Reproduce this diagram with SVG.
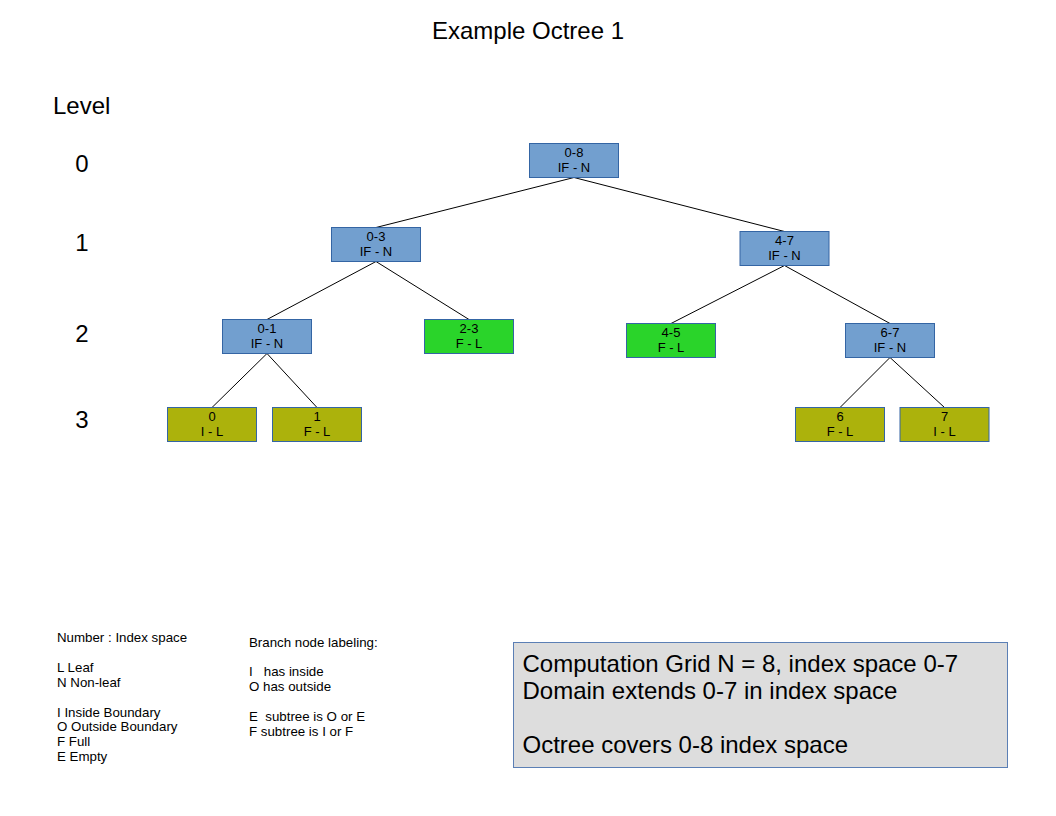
<svg xmlns="http://www.w3.org/2000/svg" width="1056" height="816" viewBox="0 0 1056 816">
<style>
text{font-family:"Liberation Sans",Arial,sans-serif;fill:#000}
.big{font-size:24px}
.sm{font-size:13.3px;white-space:pre}
.nt{font-size:13px;text-anchor:middle}
.node rect{stroke:#3465a4;stroke-width:1}
.blue rect{fill:#729fcf}
.green rect{fill:#2ad42a}
.olive rect{fill:#acb20c}
#connectors line{stroke:#000;stroke-width:1}
</style>
<rect width="1056" height="816" fill="#fff"/>
<text class="big" x="528" y="38.5" text-anchor="middle">Example Octree 1</text>
<g id="levels">
<text class="big" x="53" y="114">Level</text>
<text class="big" x="82" y="171.5" text-anchor="middle">0</text>
<text class="big" x="82" y="250.7" text-anchor="middle">1</text>
<text class="big" x="82" y="341.7" text-anchor="middle">2</text>
<text class="big" x="82" y="428.3" text-anchor="middle">3</text>
</g>
<g id="connectors">
<line x1="574" y1="177.5" x2="376" y2="227.5"/>
<line x1="574" y1="177.5" x2="784.5" y2="231.5"/>
<line x1="376" y1="261.5" x2="267" y2="319.5"/>
<line x1="376" y1="261.5" x2="469" y2="319.5"/>
<line x1="784.5" y1="265.5" x2="671" y2="323.5"/>
<line x1="784.5" y1="265.5" x2="890" y2="323.5"/>
<line x1="267" y1="353.5" x2="212" y2="407.5"/>
<line x1="267" y1="353.5" x2="317" y2="407.5"/>
<line x1="890" y1="357.5" x2="840" y2="407.5"/>
<line x1="890" y1="357.5" x2="944.5" y2="407.5"/>
</g>
<g id="n08" class="node blue"><rect x="529.5" y="143.5" width="89" height="34"/><text class="nt" x="574" y="157.2">0-8</text><text class="nt" x="574" y="172">IF - N</text></g>
<g id="n03" class="node blue"><rect x="331.5" y="227.5" width="89" height="34"/><text class="nt" x="376" y="241.2">0-3</text><text class="nt" x="376" y="256">IF - N</text></g>
<g id="n47" class="node blue"><rect x="740" y="231.5" width="89" height="34"/><text class="nt" x="784.5" y="245.2">4-7</text><text class="nt" x="784.5" y="260">IF - N</text></g>
<g id="n01" class="node blue"><rect x="222.5" y="319.5" width="89" height="34"/><text class="nt" x="267" y="333.2">0-1</text><text class="nt" x="267" y="348">IF - N</text></g>
<g id="n23" class="node green"><rect x="424.5" y="319.5" width="89" height="34"/><text class="nt" x="469" y="333.2">2-3</text><text class="nt" x="469" y="348">F - L</text></g>
<g id="n45" class="node green"><rect x="626.5" y="323.5" width="89" height="34"/><text class="nt" x="671" y="337.2">4-5</text><text class="nt" x="671" y="352">F - L</text></g>
<g id="n67" class="node blue"><rect x="845.5" y="323.5" width="89" height="34"/><text class="nt" x="890" y="337.2">6-7</text><text class="nt" x="890" y="352">IF - N</text></g>
<g id="n0" class="node olive"><rect x="167.5" y="407.5" width="89" height="34"/><text class="nt" x="212" y="421.2">0</text><text class="nt" x="212" y="436">I - L</text></g>
<g id="n1" class="node olive"><rect x="272.5" y="407.5" width="89" height="34"/><text class="nt" x="317" y="421.2">1</text><text class="nt" x="317" y="436">F - L</text></g>
<g id="n6" class="node olive"><rect x="795.5" y="407.5" width="89" height="34"/><text class="nt" x="840" y="421.2">6</text><text class="nt" x="840" y="436">F - L</text></g>
<g id="n7" class="node olive"><rect x="900" y="407.5" width="89" height="34"/><text class="nt" x="944.5" y="421.2">7</text><text class="nt" x="944.5" y="436">I - L</text></g>
<g id="legend">
<text class="sm" x="57" y="641.5">Number : Index space</text>
<text class="sm" x="57" y="671.5">L Leaf</text>
<text class="sm" x="57" y="686.5">N Non-leaf</text>
<text class="sm" x="57" y="716.5">I Inside Boundary</text>
<text class="sm" x="57" y="731.3">O Outside Boundary</text>
<text class="sm" x="57" y="746">F Full</text>
<text class="sm" x="57" y="760.7">E Empty</text>
</g>
<g id="branch-legend">
<text class="sm" x="249" y="646.7">Branch node labeling:</text>
<text class="sm" x="249" y="676">I   has inside</text>
<text class="sm" x="249" y="691">O has outside</text>
<text class="sm" x="249" y="721">E  subtree is O or E</text>
<text class="sm" x="249" y="735.7">F subtree is I or F</text>
</g>
<g id="info">
<rect x="513.5" y="642.5" width="494" height="125" fill="#dddddd" stroke="#5b7fb5" stroke-width="1"/>
<text class="big" x="522.5" y="671.5">Computation Grid N = 8, index space 0-7</text>
<text class="big" x="522.5" y="698.8">Domain extends 0-7 in index space</text>
<text class="big" x="522.5" y="753.3">Octree covers 0-8 index space</text>
</g>
</svg>
